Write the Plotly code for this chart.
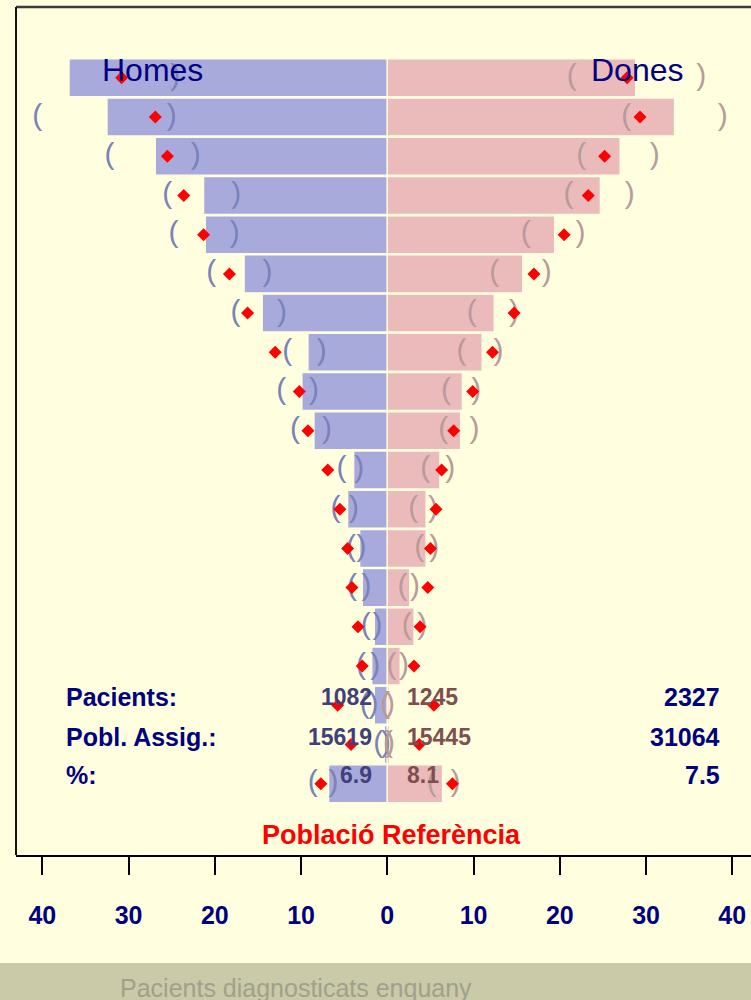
import plotly.graph_objects as go

# ---------------- data (top row = oldest group) ----------------
ages = ["90+", "85-89", "80-84", "75-79", "70-74", "65-69", "60-64", "55-59", "50-54",
        "45-49", "40-44", "35-39", "30-34", "25-29", "20-24", "15-19", "10-14", "5-9", "0-4"]

homes_pct = [36.9, 32.5, 26.9, 21.3, 21.1, 16.6, 14.5, 9.2, 9.9, 8.5, 3.9, 4.6, 3.2, 2.9, 1.5, 1.8, 1.5, 0.35, 6.8]
homes_ci_hi = [49.0, 40.6, 32.2, 25.5, 24.8, 20.4, 17.6, 11.6, 12.3, 10.7, 5.3, 6.0, 4.2, 4.1, 2.5, 3.05, 2.6, 1.05, 8.65]
homes_ci_lo = [24.6, 25.0, 22.2, 17.5, 17.7, 13.9, 12.2, 7.6, 8.5, 7.0, 3.25, 3.85, 3.0, 2.4, 1.15, 1.4, 1.6, 0.15, 6.25]
homes_ref = [30.8, 26.9, 25.5, 23.6, 21.3, 18.3, 16.2, 13.0, 10.2, 9.2, 6.9, 5.5, 4.6, 4.1, 3.4, 2.9, 5.75, 4.2, 7.7]

dones_pct = [28.8, 33.3, 27.0, 24.7, 19.4, 15.7, 12.4, 11.0, 8.7, 8.5, 6.1, 4.5, 4.5, 2.6, 3.1, 1.5, 0.2, 0.25, 6.4]
dones_ci_lo = [21.4, 27.7, 22.5, 21.0, 16.05, 12.4, 9.8, 8.6, 6.8, 6.5, 4.4, 3.0, 3.7, 1.75, 2.25, 0.5, -0.25, 0.08, 5.15]
dones_ci_hi = [36.4, 38.9, 31.0, 28.1, 22.4, 18.5, 14.7, 12.9, 10.3, 10.1, 7.3, 5.3, 5.45, 3.2, 4.05, 1.95, 0.3, 0.32, 7.9]
dones_ref = [27.8, 29.3, 25.2, 23.3, 20.5, 17.0, 14.7, 12.2, 9.9, 7.7, 6.3, 5.65, 5.0, 4.7, 3.8, 3.1, 5.4, 3.7, 7.55]

pacients = [1082, 1245]          # homes, dones
pobl_assig = [15619, 15445]      # homes, dones

tick_vals = [-40, -30, -20, -10, 0, 10, 20, 30, 40]
tick_text = [str(abs(v)) for v in tick_vals]

# ---------------- styling ----------------
BG = "#ffffdf"
NAVY = "#000080"
MEN_BAR = "#a9aadc"
WOMEN_BAR = "#ebbbbb"
MEN_PAR = "#7a82b8"
WOMEN_PAR = "#b89a9a"
BOLD_FONT = "Liberation Sans, Arial, sans-serif"
NARROW_FONT = "Liberation Sans Narrow, Arial Narrow, Liberation Sans, Arial, sans-serif"

W, H = 751, 1000
L, R, T, B = 16, 0, 7, 145

fig = go.Figure()

fig.add_trace(go.Bar(
    y=ages, x=[-v for v in homes_pct], orientation="h", name="Homes",
    marker=dict(color=MEN_BAR, line=dict(color=BG, width=1.3)), hoverinfo="skip"))
fig.add_trace(go.Bar(
    y=ages, x=dones_pct, orientation="h", name="Dones",
    marker=dict(color=WOMEN_BAR, line=dict(color=BG, width=1.3)), hoverinfo="skip"))

# confidence-interval parentheses
fig.add_trace(go.Scatter(
    y=ages + ages, x=[-v for v in homes_ci_hi] + [-v for v in homes_ci_lo],
    text=["("] * len(ages) + [")"] * len(ages), mode="text",
    textfont=dict(family="Liberation Sans, Arial, sans-serif", size=30, color=MEN_PAR),
    textposition="middle center", hoverinfo="skip", cliponaxis=True))
fig.add_trace(go.Scatter(
    y=ages + ages, x=dones_ci_lo + dones_ci_hi,
    text=["("] * len(ages) + [")"] * len(ages), mode="text",
    textfont=dict(family="Liberation Sans, Arial, sans-serif", size=30, color=WOMEN_PAR),
    textposition="middle center", hoverinfo="skip", cliponaxis=True))

# reference population diamonds
fig.add_trace(go.Scatter(
    y=ages + ages, x=[-v for v in homes_ref] + dones_ref, mode="markers",
    marker=dict(symbol="diamond", size=10, color="#ff0000"), hoverinfo="skip"))

def py(px):
    return (H - B - px) / (H - B - T)

total_pac = sum(pacients)
total_pob = sum(pobl_assig)
pct = [100 * p / q for p, q in zip(pacients, pobl_assig)]
pct_tot = 100 * total_pac / total_pob

ann = []
ann.append(dict(text="Homes", x=-33.3, xanchor="left", y=py(70), font=dict(family="Liberation Sans, Arial", size=32, color=NAVY)))
ann.append(dict(text="Dones", x=34.6, xanchor="right", y=py(70), font=dict(family="Liberation Sans, Arial", size=32, color=NAVY)))

rows = [("Pacients:", f"{pacients[0]}", f"{pacients[1]}", f"{total_pac}", 697),
        ("Pobl. Assig.:", f"{pobl_assig[0]}", f"{pobl_assig[1]}", f"{total_pob}", 737),
        ("%:", f"{pct[0]:.1f}", f"{pct[1]:.1f}", f"{pct_tot:.1f}", 775)]
for lab, m, w, t, ypx in rows:
    ann.append(dict(text=lab, x=-37.5, xanchor="left", y=py(ypx), font=dict(family=BOLD_FONT, size=25, color=NAVY, weight="bold")))
    ann.append(dict(text=m, x=-1.6, xanchor="right", y=py(ypx), font=dict(family=NARROW_FONT, size=23, color="#40407a", weight="bold")))
    ann.append(dict(text=w, x=2.1, xanchor="left", y=py(ypx), font=dict(family=NARROW_FONT, size=23, color="#7d4f4f", weight="bold")))
    ann.append(dict(text=t, x=38.85, xanchor="right", y=py(ypx), font=dict(family=BOLD_FONT, size=25, color=NAVY, weight="bold")))

ann.append(dict(text="Població Referència", x=0.45, xanchor="center", y=py(835), font=dict(family=BOLD_FONT, size=27, color="#ff0000", weight="bold")))

for a in ann:
    a.update(xref="x", yref="paper", yanchor="middle", showarrow=False)

ann.append(dict(text="Pacients diagnosticats enquany", xref="paper", yref="paper",
                x=(118 - L) / (W - L - R), xanchor="left", y=py(988), yanchor="middle",
                showarrow=False, font=dict(family="Liberation Sans, Arial", size=25, color="#a0a08c")))

shapes = [
    dict(type="rect", xref="paper", yref="paper", x0=-L / (W - L), x1=1.0, y0=py(963), y1=py(1000) - 0.01,
         fillcolor="#cacaa9", line=dict(width=0), layer="below"),
    dict(type="line", xref="paper", yref="paper", x0=0, x1=1, y0=1, y1=1, line=dict(color="#3a3a3a", width=2.5)),
    dict(type="line", xref="paper", yref="paper", x0=0, x1=0, y0=0, y1=1, line=dict(color="#111111", width=2)),
]

fig.update_layout(
    width=W, height=H, margin=dict(l=L, r=R, t=T, b=B, pad=0),
    paper_bgcolor=BG, plot_bgcolor=BG, showlegend=False,
    barmode="overlay", bargap=0.035,
    annotations=ann, shapes=shapes,
    xaxis=dict(range=[-43.05, 42.17], tickvals=tick_vals, ticktext=tick_text,
               ticks="outside", ticklen=18, tickwidth=2, tickcolor="#000000",
               showline=True, linecolor="#000000", linewidth=2,
               showgrid=False, zeroline=False, automargin=False, fixedrange=True,
               tickfont=dict(family=BOLD_FONT, size=25, color=NAVY, weight="bold"),
               ticklabelstandoff=19),
    yaxis=dict(type="category", categoryarray=ages, range=[19.818, -1.805],
               showticklabels=False, showgrid=False, zeroline=False, showline=False,
               ticks="", automargin=False, fixedrange=True),
)

fig.write_html("out.html", config={"displayModeBar": False},
               post_script="document.body.style.margin='0';document.body.style.overflow='hidden';")
